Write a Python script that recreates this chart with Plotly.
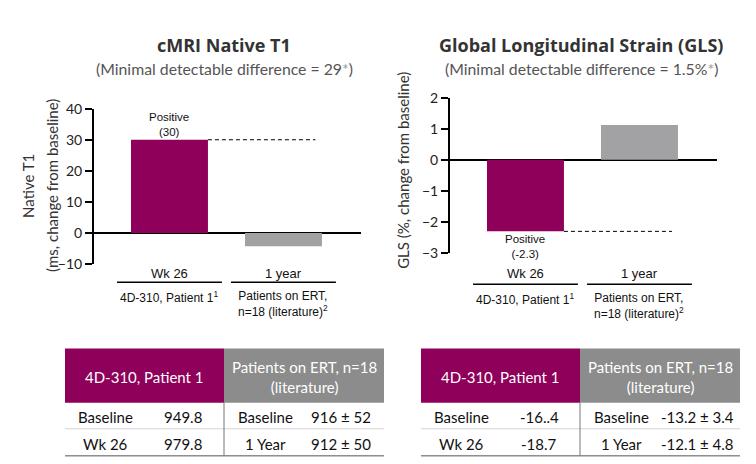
import plotly.graph_objects as go

# chart data
bar_pos = [0, 1]
t1_values = [30, -4.2]
gls_values = [-2.3, 1.12]
period_labels = ["Wk 26", "1 year"]
group_labels = ["4D-310, Patient 1<sup>1</sup>", "Patients on ERT,<br>n=18 (literature)<sup>2</sup>"]
t1_ticks = [-10, 0, 10, 20, 30, 40]
gls_ticks = [-3, -2, -1, 0, 1, 2]

# table data
table_headers = ["4D-310, Patient 1", "Patients on ERT, n=18<br>(literature)"]
patient_rows = ["Baseline", "Wk 26"]
lit_rows = ["Baseline", "1 Year"]
t1_patient = ["949.8", "979.8"]
t1_lit = ["916 ± 52", "912 ± 50"]
gls_patient = ["-16..4", "-18.7"]
gls_lit = ["-13.2 ± 3.4", "-12.1 ± 4.8"]

PURPLE = "#8e005a"
GRAY_BAR = "#a2a2a5"
GRAY_HEAD = "#8c8c8c"
# page body has an 8px margin
PAD = 8
W, H = 756 - 2 * PAD, 464
# the photo squeezes the page a bit vertically (measured with guide lines)
SY, OY = 0.96, 9
GILL = "Lato"
ARIAL = "Liberation Sans"
TITLE_FONT = "Open Sans"


def px(x):
    return (x - PAD) / W


def py(y):
    page_y = (y - OY) / SY
    return 1 - (page_y - PAD) / H


def note(**kw):
    a = dict(showarrow=False, xanchor="center", yanchor="middle")
    a.update(kw)
    return a


fig = go.Figure()
fig.add_trace(go.Bar(x=bar_pos, y=t1_values, width=0.675, marker_color=[PURPLE, GRAY_BAR],
                     marker_line_width=0, xaxis="x", yaxis="y", showlegend=False, hoverinfo="skip"))
fig.add_trace(go.Bar(x=bar_pos, y=gls_values, width=0.675, marker_color=[PURPLE, GRAY_BAR],
                     marker_line_width=0, xaxis="x2", yaxis="y2", showlegend=False, hoverinfo="skip"))

yax = dict(showline=True, linewidth=2, linecolor="black", ticks="outside", ticklen=7, tickwidth=2,
           tickcolor="black", showgrid=False, zeroline=True, zerolinewidth=2, zerolinecolor="black",
           tickfont=dict(family=GILL, size=14, color="#222"))
xax = dict(showline=False, showgrid=False, zeroline=False, showticklabels=False, ticks="",
           range=[-0.662, 1.68], fixedrange=True)

fig.update_layout(
    width=W, height=H, margin=dict(l=0, r=0, t=0, b=0),
    paper_bgcolor="white", plot_bgcolor="white",
    xaxis=dict(domain=[px(94), px(361)], anchor="y", **xax),
    yaxis=dict(domain=[py(263), py(108)], range=[-10, 40], tickvals=t1_ticks, anchor="x", **yax),
    xaxis2=dict(domain=[px(450), px(717)], anchor="y2", **xax),
    yaxis2=dict(domain=[py(252), py(97)], range=[-3, 2], tickvals=gls_ticks, anchor="x2", **yax),
)

ann = []
shapes = []

# titles
star = "<span style='color:#999'>*</span>"
for cx, title, sub in [(224, "cMRI Native T1", "(Minimal detectable difference = 29" + star + ")"),
                       (581, "Global Longitudinal Strain (GLS)", "(Minimal detectable difference = 1.5%" + star + ")")]:
    ann.append(note(x=px(cx), y=py(45), xref="paper", yref="paper", text="<b>" + title + "</b>",
                    font=dict(family=TITLE_FONT, size=18, color="#333")))
    ann.append(note(x=px(cx), y=py(68), xref="paper", yref="paper", text=sub,
                    font=dict(family=GILL, size=15.8, color="#555")))

# y axis titles
ann.append(note(x=px(28), y=py(185), xref="paper", yref="paper", textangle=-90,
                text="Native T1", font=dict(family=GILL, size=15, color="#333")))
ann.append(note(x=px(52), y=py(185), xref="paper", yref="paper", textangle=-90,
                text="(ms, change from baseline)", font=dict(family=GILL, size=15, color="#333")))
ann.append(note(x=px(403), y=py(170), xref="paper", yref="paper", textangle=-90,
                text="GLS (%, change from baseline)",
                font=dict(family=GILL, size=15, color="#333")))

# bar notes
ann.append(note(x=0, y=t1_values[0], xref="x", yref="y", yanchor="bottom", yshift=0,
                text="Positive<br>(30)", font=dict(family=ARIAL, size=11.5, color="#111")))
ann.append(note(x=0, y=gls_values[0], xref="x2", yref="y2", yanchor="top", yshift=0,
                text="Positive<br>(-2.3)", font=dict(family=ARIAL, size=11.5, color="#111")))

# threshold dashed lines
shapes.append(dict(type="line", xref="x", yref="y", x0=0.3375, x1=1.28, y0=t1_values[0], y1=t1_values[0],
                   line=dict(color="black", width=1, dash="4px,3px")))
shapes.append(dict(type="line", xref="x2", yref="y2", x0=0.3375, x1=1.285, y0=gls_values[0], y1=gls_values[0],
                   line=dict(color="black", width=1, dash="4px,3px")))

# category labels under each chart
for xr, y_per, y_line in [("x", 272, 281), ("x2", 272, 283)]:
    for i, p in enumerate(bar_pos):
        ann.append(note(x=p, y=py(y_per), xref=xr, yref="paper", text=period_labels[i],
                        font=dict(family=ARIAL, size=13, color="#111")))
        ann.append(note(x=p, y=py(y_line + 5), xref=xr, yref="paper", yanchor="top", text=group_labels[i],
                        font=dict(family=ARIAL, size=12, color="#111")))
        shapes.append(dict(type="line", xref=xr, yref="paper", x0=p - 0.46, x1=p + 0.46,
                           y0=py(y_line), y1=py(y_line), line=dict(color="black", width=1.5)))


# tables
def add_table(x0, pat_vals, lit_vals):
    mid, x1 = x0 + 159, x0 + 319
    shapes.append(dict(type="rect", xref="paper", yref="paper", x0=px(x0), x1=px(mid), y0=py(401), y1=py(347),
                       fillcolor=PURPLE, line_width=0))
    shapes.append(dict(type="rect", xref="paper", yref="paper", x0=px(mid), x1=px(x1), y0=py(401), y1=py(347),
                       fillcolor=GRAY_HEAD, line_width=0))
    shapes.append(dict(type="line", xref="paper", yref="paper", x0=px(x0), x1=px(x1), y0=py(427), y1=py(427),
                       line=dict(color="#d4d4d4", width=1)))
    shapes.append(dict(type="line", xref="paper", yref="paper", x0=px(x0), x1=px(x1), y0=py(454), y1=py(454),
                       line=dict(color="#555", width=1)))
    shapes.append(dict(type="line", xref="paper", yref="paper", x0=px(mid), x1=px(mid), y0=py(401), y1=py(454),
                       line=dict(color="#777", width=1)))
    ann.append(note(x=px((x0 + mid) / 2), y=py(375), xref="paper", yref="paper", text=table_headers[0],
                    font=dict(family=GILL, size=15, color="white")))
    ann.append(note(x=px((mid + x1) / 2), y=py(375), xref="paper", yref="paper", text=table_headers[1],
                    font=dict(family=GILL, size=15, color="white")))
    for r, yy in enumerate([415, 442]):
        for off, txt in [(40, patient_rows[r]), (118, pat_vals[r]), (200, lit_rows[r]), (276, lit_vals[r])]:
            ann.append(note(x=px(x0 + off), y=py(yy), xref="paper", yref="paper", text=txt,
                            font=dict(family=GILL, size=15, color="#111")))


add_table(65, t1_patient, t1_lit)
add_table(421, gls_patient, gls_lit)

fig.update_layout(annotations=ann, shapes=shapes)
fig.write_html("out.html")
